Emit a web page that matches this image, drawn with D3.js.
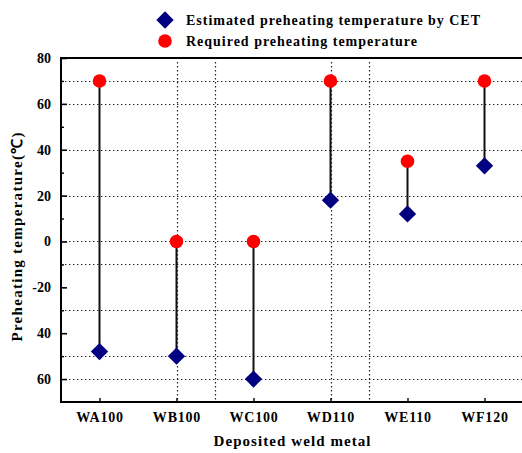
<!DOCTYPE html>
<html>
<head>
<meta charset="utf-8">
<script src="https://cdn.jsdelivr.net/npm/d3@7"></script>
<style>
  html, body { margin: 0; padding: 0; background: #fff; }
  svg { display: block; }
  text { font-family: "Liberation Serif", "Times New Roman", serif; font-weight: bold; fill: #000; }
</style>
</head>
<body>
<svg id="chart" width="522" height="453"></svg>
<script>
// Weld metal grades along the x axis
const categories = ["WA100", "WB100", "WC100", "WD110", "WE110", "WF120"];
// Preheating temperature estimated from CET (°C)
const estimatedTemp = [-48, -50, -60, 18, 12, 33];
// Required preheating temperature (°C)
const requiredTemp = [70, 0, 0, 70, 35, 70];
// Labelled y ticks and the text printed beside them
const yTickValues = [80, 60, 40, 20, 0, -20, -40, -60];
const yTickLabels = ["80", "60", "40", "20", "0", "-20", "40", "60"];
// Unlabelled y ticks
const yMinorValues = [70, 50, 30, 10, -10, -30, -50];
// Dotted grid lines (y values and x positions in category units)
const yGridValues = [70, 60, 40, 20, 0, -10, -30, -50, -60];
const xGridValues = [1, 1.5, 3, 3.5];

const seriesNames = ["Estimated preheating temperature by CET", "Required preheating temperature"];

const svg = d3.select("#chart");
const plotLeft = 61, plotRight = 523, plotTop = 58, plotBottom = 402;

const x = d3.scaleLinear().domain([-0.5, categories.length - 0.5]).range([plotLeft, plotRight]);
const y = d3.scaleLinear().domain([-70, 80]).range([plotBottom, plotTop]);

// grid
const grid = svg.append("g").attr("stroke", "#222").attr("stroke-width", 1.2)
  .attr("stroke-dasharray", "1.4,2.6");
grid.selectAll("line.h").data(yGridValues).join("line").attr("class", "h")
  .attr("x1", plotLeft).attr("x2", plotRight)
  .attr("y1", d => Math.round(y(d)) + 0.5).attr("y2", d => Math.round(y(d)) + 0.5);
grid.selectAll("line.v").data(xGridValues).join("line").attr("class", "v")
  .attr("y1", plotTop + 4).attr("y2", plotBottom)
  .attr("x1", d => Math.round(x(d)) + 0.5).attr("x2", d => Math.round(x(d)) + 0.5);

// y axis: labelled ticks every 20, short ticks between, pointing inside
const yAxis = d3.axisLeft(y)
  .tickValues(yTickValues)
  .tickSize(-6)
  .tickPadding(10)
  .tickFormat((d, i) => yTickLabels[i]);
const yG = svg.append("g").attr("transform", `translate(${plotLeft},0)`).call(yAxis);
yG.select(".domain").remove();
yG.selectAll(".tick line").attr("stroke", "#000").attr("stroke-width", 1.6);
yG.selectAll(".tick text").attr("font-size", 14).attr("font-family", "Liberation Serif").attr("font-weight", "bold");

const yMinor = d3.axisLeft(y).tickValues(yMinorValues).tickSize(-3).tickFormat("");
const yMG = svg.append("g").attr("transform", `translate(${plotLeft},0)`).call(yMinor);
yMG.select(".domain").remove();
yMG.selectAll(".tick line").attr("stroke", "#000").attr("stroke-width", 1.4);

// x axis: ticks at categories, pointing inside
const xAxis = d3.axisBottom(x)
  .tickValues(d3.range(categories.length))
  .tickSize(-4)
  .tickPadding(10)
  .tickFormat(i => categories[i]);
const xG = svg.append("g").attr("transform", `translate(0,${plotBottom})`).call(xAxis);
xG.select(".domain").remove();
xG.selectAll(".tick line").attr("stroke", "#000").attr("stroke-width", 1.4);
xG.selectAll(".tick text").attr("font-size", 14).attr("font-family", "Liberation Serif")
  .attr("font-weight", "bold").attr("letter-spacing", 0.8);

// frame: left, bottom and top lines
svg.append("path")
  .attr("d", `M${plotRight},${plotTop}H${plotLeft}V${plotBottom}H${plotRight}`)
  .attr("fill", "none").attr("stroke", "#000").attr("stroke-width", 2);

// connecting stems
svg.append("g").selectAll("line").data(categories).join("line")
  .attr("x1", (d, i) => x(i)).attr("x2", (d, i) => x(i))
  .attr("y1", (d, i) => y(requiredTemp[i])).attr("y2", (d, i) => y(estimatedTemp[i]))
  .attr("stroke", "#111").attr("stroke-width", 2);

const diamond = d3.symbol().type(d3.symbolSquare).size(150);
const circle = d3.symbol().type(d3.symbolCircle).size(145);

// required temperature (red circles)
svg.append("g").selectAll("path").data(requiredTemp).join("path")
  .attr("d", circle())
  .attr("transform", (d, i) => `translate(${x(i)},${y(d)})`)
  .attr("fill", "#ff0000");

// estimated temperature (navy diamonds)
svg.append("g").selectAll("path").data(estimatedTemp).join("path")
  .attr("d", diamond())
  .attr("transform", (d, i) => `translate(${x(i)},${y(d)}) rotate(45)`)
  .attr("fill", "#000080");

// legend
const legend = svg.append("g");
legend.append("path").attr("d", diamond()).attr("transform", "translate(165,20) rotate(45)").attr("fill", "#000080");
legend.append("path").attr("d", circle()).attr("transform", "translate(165,41)").attr("fill", "#ff0000");
legend.append("text").attr("x", 186).attr("y", 25).attr("font-size", 14)
  .attr("textLength", 294).attr("lengthAdjust", "spacing").text(seriesNames[0]);
legend.append("text").attr("x", 186).attr("y", 46).attr("font-size", 14)
  .attr("textLength", 231).attr("lengthAdjust", "spacing").text(seriesNames[1]);

// axis titles
svg.append("text").attr("x", 292).attr("y", 446).attr("text-anchor", "middle").attr("font-size", 15)
  .attr("textLength", 157).attr("lengthAdjust", "spacing").text("Deposited weld metal");
svg.append("text").attr("transform", "translate(22,237) rotate(-90)").attr("text-anchor", "middle")
  .attr("font-size", 15).attr("textLength", 209).attr("lengthAdjust", "spacing")
  .text("Preheating temperature(℃)");
</script>
</body>
</html>
